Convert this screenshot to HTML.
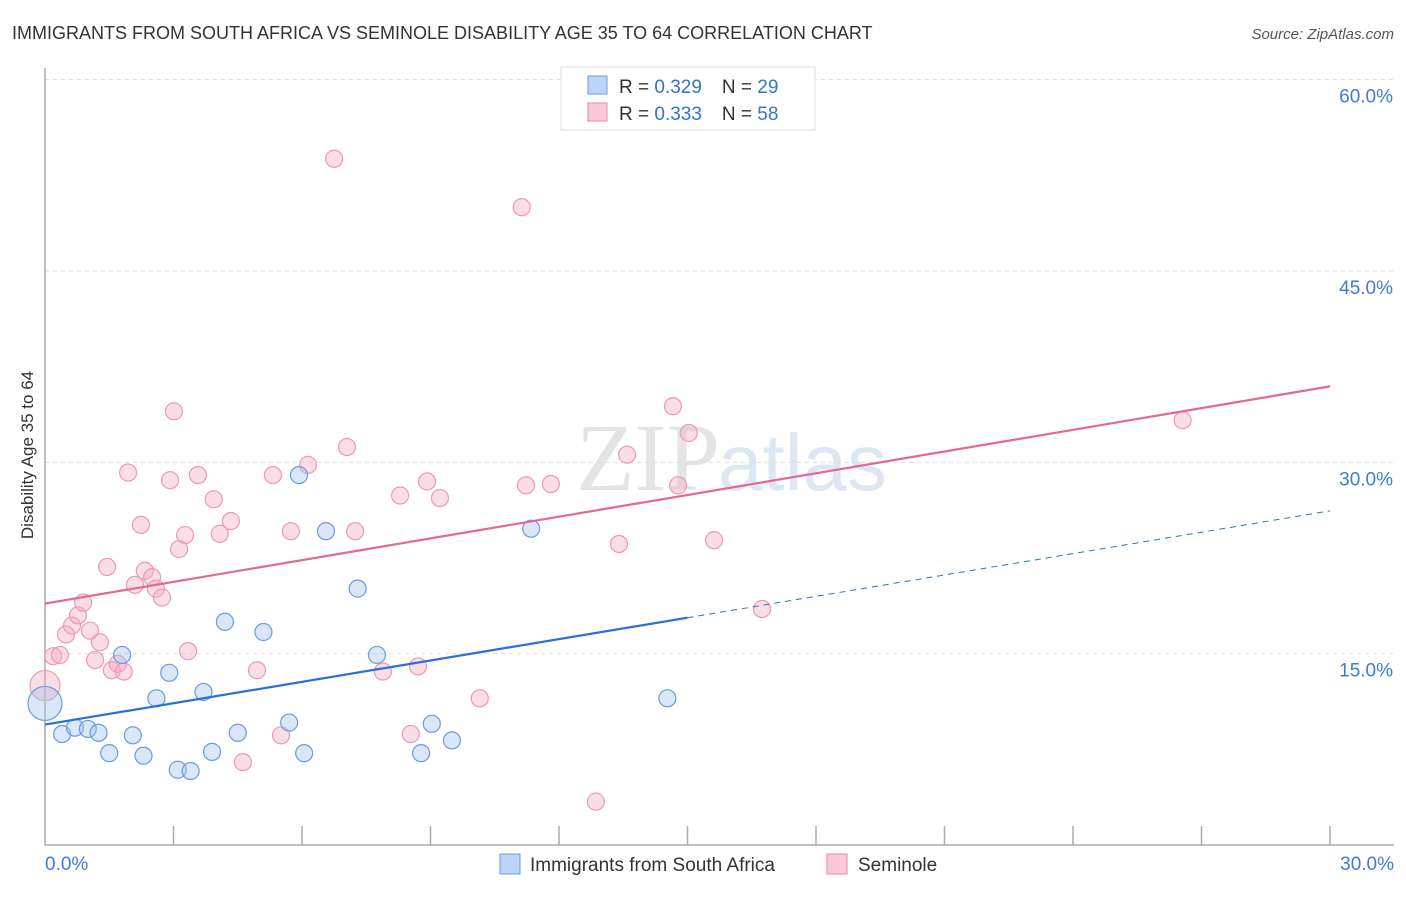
<!DOCTYPE html>
<html><head><meta charset="utf-8"><style>
body{margin:0;background:#fff;font-family:"Liberation Sans",sans-serif;}
</style></head><body>
<svg id="chart" width="1406" height="892" xmlns="http://www.w3.org/2000/svg">
<text x="12" y="39" font-size="18" fill="#333">IMMIGRANTS FROM SOUTH AFRICA VS SEMINOLE DISABILITY AGE 35 TO 64 CORRELATION CHART</text>
<text x="1394" y="39" font-size="15" fill="#555" text-anchor="end" font-style="italic">Source: ZipAtlas.com</text>
<text x="720" y="490" font-size="96" fill="#e4e4e4" text-anchor="end" font-family="Liberation Serif">ZIP</text>
<text x="718" y="490" font-size="80" fill="#dde7f3">atlas</text>
<g id="grid"></g>
<g id="axes"></g>
<g id="marks"></g>
<text transform="translate(33,455) rotate(-90)" font-size="17" fill="#333" text-anchor="middle">Disability Age 35 to 64</text>
<g>
<rect x="561" y="67" width="254" height="63" fill="#fff" stroke="#ddd"/>
<rect x="588" y="76" width="19" height="18" fill="#bcd4f5" stroke="#6a9be0"/>
<rect x="588" y="103" width="19" height="18" fill="#fac8d8" stroke="#e88aa8"/>
<text x="619" y="93" font-size="19" fill="#333">R = <tspan fill="#3373d1">0.329</tspan><tspan dx="20">N = </tspan><tspan fill="#3373d1">29</tspan></text>
<text x="619" y="120" font-size="19" fill="#333">R = <tspan fill="#3373d1">0.333</tspan><tspan dx="20">N = </tspan><tspan fill="#3373d1">58</tspan></text>
</g>
<g>
<rect x="500" y="854" width="20" height="20" fill="#bcd4f5" stroke="#6a9be0"/>
<text x="530" y="871" font-size="19" fill="#333">Immigrants from South Africa</text>
<rect x="827" y="854" width="20" height="20" fill="#fac8d8" stroke="#e88aa8"/>
<text x="858" y="871" font-size="19" fill="#333">Seminole</text>
</g>
</svg>
<script>
const yTicks=[15,30,45,60];
const yTickLabels=["15.0%","30.0%","45.0%","60.0%"];
const xEndLabels=["0.0%","30.0%"];
const blueX=[0.0,0.4,0.7,1.0,1.25,1.5,1.8,2.05,2.3,2.6,2.9,3.1,3.4,3.7,3.9,4.2,4.5,5.1,5.7,5.93,6.05,6.56,7.3,7.75,8.78,9.03,9.5,11.35,14.53];
const blueY=[11.1,8.7,9.2,9.1,8.8,7.2,14.9,8.6,7.0,11.5,13.5,5.9,5.8,12.0,7.3,17.5,8.8,16.7,9.6,29.0,7.2,24.6,20.1,14.9,7.2,9.5,8.2,24.8,11.5];
const pinkX=[0.0,0.19,0.35,0.49,0.63,0.77,0.89,1.05,1.17,1.28,1.45,1.56,1.7,1.84,1.94,2.1,2.24,2.33,2.5,2.59,2.73,2.92,3.01,3.13,3.27,3.34,3.57,3.94,4.08,4.34,4.95,5.32,5.51,5.74,6.14,6.75,7.05,7.24,7.89,8.29,8.54,8.71,8.92,9.22,10.15,11.13,11.23,11.81,12.86,13.4,13.59,14.66,14.78,15.03,15.62,16.74,26.56,4.62];
const pinkY=[12.5,14.8,14.9,16.5,17.2,18.0,19.0,16.8,14.5,15.9,21.8,13.7,14.2,13.6,29.2,20.4,25.1,21.5,21.0,20.1,19.4,28.6,34.0,23.2,24.3,15.2,29.0,27.1,24.4,25.4,13.7,29.0,8.6,24.6,29.8,53.8,31.2,24.6,13.6,27.4,8.7,14.0,28.5,27.2,11.5,50.0,28.2,28.3,3.4,23.6,30.6,34.4,28.2,32.3,23.9,18.5,33.3,6.5];
const NS="http://www.w3.org/2000/svg";
const X=v=>45+v/30*1285, Y=v=>845-v/15*191.33;
function mk(tag,attrs,parent){const e=document.createElementNS(NS,tag);for(const k in attrs)e.setAttribute(k,attrs[k]);document.getElementById(parent).appendChild(e);return e;}
yTicks.forEach((t,i)=>{
 const l=mk('line',{x1:45,x2:1394,y1:Y(t),y2:Y(t),stroke:'#ddd','stroke-dasharray':'4,4'},'grid');
 
 
 const tx=mk('text',{x:1393,y:Y(t)+23,'font-size':19,fill:'#3f7bd6','text-anchor':'end'},'grid');
 tx.textContent=yTickLabels[i];
 
 
});
let ax=mk('line',{x1:45,x2:45,y1:68,y2:845,stroke:'#aaa','stroke-width':1.5},'axes');


ax=mk('line',{x1:45,x2:1394,y1:845,y2:845,stroke:'#aaa','stroke-width':1.5},'axes');


for(let i=1;i<=10;i++){const t=mk('line',{x1:X(i*3),x2:X(i*3),y1:826,y2:845,stroke:'#aaa','stroke-width':1.5},'axes');
 
 }
let xl=mk('text',{x:45,y:870,'font-size':19,fill:'#3f7bd6'},'axes');xl.textContent=xEndLabels[0];


xl=mk('text',{x:1394,y:870,'font-size':19,fill:'#3f7bd6','text-anchor':'end'},'axes');xl.textContent=xEndLabels[1];


pinkX.forEach((x,i)=>{const c=mk('circle',{cx:X(x),cy:Y(pinkY[i]),r:i==0?15:8.5,fill:'rgba(246,170,196,0.4)',stroke:'#eb9ab4','stroke-width':1.2},'marks');
 
 });
blueX.forEach((x,i)=>{const c=mk('circle',{cx:X(x),cy:Y(blueY[i]),r:i==0?17:8.5,fill:'rgba(160,195,240,0.4)',stroke:'#6a9be0','stroke-width':1.2},'marks');
 
 });
function fit(xs,ys){const n=xs.length,mx=xs.reduce((a,b)=>a+b)/n,my=ys.reduce((a,b)=>a+b)/n;let sxy=0,sxx=0;xs.forEach((x,i)=>{sxy+=(x-mx)*(ys[i]-my);sxx+=(x-mx)**2;});const b=sxy/sxx;return [my-b*mx,b];}
const [pa,pb]=fit(pinkX,pinkY);
let tl=mk('line',{x1:X(0),y1:Y(pa),x2:X(30),y2:Y(pa+pb*30),stroke:'#e4679a','stroke-width':2.2},'marks');


const [ba,bb]=fit(blueX,blueY);
tl=mk('line',{x1:X(0),y1:Y(ba),x2:X(15),y2:Y(ba+bb*15),stroke:'#2a6fd6','stroke-width':2.2},'marks');


tl=mk('line',{x1:X(15),y1:Y(ba+bb*15),x2:X(30),y2:Y(ba+bb*30),stroke:'#2a6fd6','stroke-width':1,'stroke-dasharray':'6,5'},'marks');


</script>
</body></html>
